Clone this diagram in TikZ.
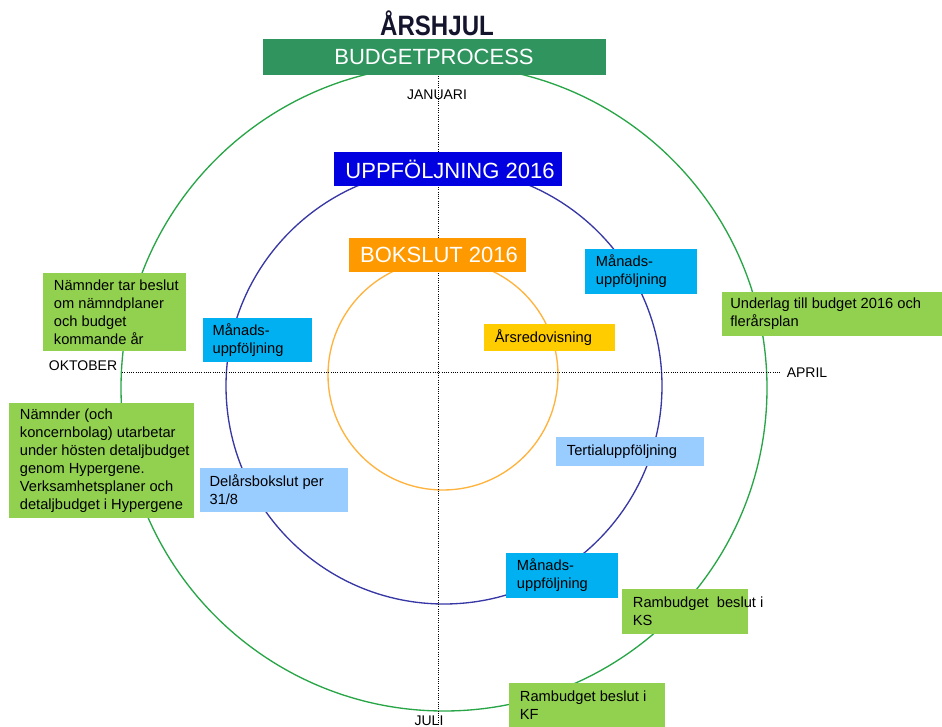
\documentclass[tikz,border=0pt]{standalone}
\usepackage{fontspec}
\setmainfont{Liberation Sans}
\definecolor{hdrgreen}{RGB}{48,148,95}
\definecolor{ringgreen}{RGB}{40,165,70}
\definecolor{hdrblue}{RGB}{0,0,225}
\definecolor{ringblue}{RGB}{55,55,165}
\definecolor{hdrorange}{RGB}{255,153,0}
\definecolor{ringorange}{RGB}{255,178,60}
\definecolor{cyanbox}{RGB}{0,176,240}
\definecolor{greenbox}{RGB}{146,208,80}
\definecolor{lbluebox}{RGB}{153,204,255}
\definecolor{yellowbox}{RGB}{255,204,0}
\definecolor{titlecol}{RGB}{20,20,45}
\tikzset{
  wh/.style 2 args={minimum width=#1*0.75pt, minimum height=#2*0.75pt},
  panel/.style={inner sep=0pt, outer sep=0pt, draw=none, fill=#1},
  hdrtext/.style={inner sep=0pt, text=white, font=\fontsize{16.5}{19}\selectfont},
  boxtext/.style={inner sep=0pt, anchor=west, align=left, text=black,
    font=\fontsize{11}{13.5}\selectfont},
  month/.style={inner sep=0pt, text=black, font=\fontsize{10.5}{12}\selectfont},
  axis/.style={densely dotted, line width=0.7pt, black},
  ring/.style={line width=1pt, draw=#1}
}
\begin{document}
\begin{tikzpicture}[x=0.75pt, y=-0.75pt]
\useasboundingbox (0,0) rectangle (942,727);
% rings
\draw[ring=ringgreen] (444,388) circle [radius=323*0.75pt];
\draw[ring=ringblue] (444,386) circle [radius=218*0.75pt];
\draw[ring=ringorange] (443,375) circle [radius=115*0.75pt];
% axes
\coordinate (vtop) at (438,76);
\coordinate (vbot) at (438,727);
\coordinate (hleft) at (122,372);
\coordinate (hright) at (780,372);
\draw[axis] (vtop) -- (vbot);
\draw[axis] (hleft) -- (hright);
% title and headers
\node[inner sep=0pt, text=titlecol, font=\bfseries\fontsize{21}{24}\selectfont, xscale=0.86] (title) at (437,23) {ÅRSHJUL};
\node[panel=hdrgreen, wh={343}{36}] (budget) at (434.5,57) {};
\node[hdrtext] (budgett) at (434,57) {BUDGETPROCESS};
\node[panel=hdrblue, wh={228}{34}] (uppf) at (448,169) {};
\node[hdrtext] (uppft) at (450,169) {UPPFÖLJNING 2016};
\node[panel=hdrorange, wh={177}{34}] (boks) at (437.5,255) {};
\node[hdrtext] (bokst) at (439,255) {BOKSLUT 2016};
% month labels
\node[month] (jan) at (437,95) {JANUARI};
\node[month] (okt) at (83,366) {OKTOBER};
\node[month] (apr) at (807,373) {APRIL};
\node[month] (jul) at (429,721) {JULI};
% boxes
\node[panel=cyanbox, wh={112}{45}] (m1) at (641,271.5) {};
\node[boxtext] (m1t) at ([xshift=8pt]m1.west) {Månads-\\uppföljning};
\node[panel=greenbox, wh={220}{44}] (und) at (832,314) {};
\node[boxtext] (undt) at ([xshift=6pt]und.west) {Underlag till budget 2016 och\\flerårsplan};
\node[panel=greenbox, wh={143}{78}] (nt) at (114.5,312) {};
\node[boxtext] (ntt) at ([xshift=8pt]nt.west) {Nämnder tar beslut\\om nämndplaner\\och budget\\kommande år};
\node[panel=cyanbox, wh={109}{44}] (m2) at (257.5,340) {};
\node[boxtext] (m2t) at ([xshift=7pt]m2.west) {Månads-\\uppföljning};
\node[panel=yellowbox, wh={131}{27}] (ars) at (549.5,337.5) {};
\node[boxtext] (arst) at ([xshift=8pt]ars.west) {Årsredovisning};
\node[panel=greenbox, wh={185}{115}] (no) at (101.5,460.5) {};
\node[boxtext] (not) at ([xshift=8pt]no.west) {Nämnder (och\\koncernbolag) utarbetar\\under hösten detaljbudget\\genom Hypergene.\\Verksamhetsplaner och\\detaljbudget i Hypergene};
\node[panel=lbluebox, wh={148}{29}] (ter) at (630,451.5) {};
\node[boxtext] (tert) at ([xshift=8pt]ter.west) {Tertialuppföljning};
\node[panel=lbluebox, wh={148}{44}] (del) at (274,490) {};
\node[boxtext] (delt) at ([xshift=7pt]del.west) {Delårsbokslut per\\31/8};
\node[panel=cyanbox, wh={112}{45}] (m3) at (562,575.5) {};
\node[boxtext] (m3t) at ([xshift=8pt]m3.west) {Månads-\\uppföljning};
\node[panel=greenbox, wh={126}{45}] (ks) at (685,611.5) {};
\node[boxtext] (kst) at ([xshift=8pt]ks.west) {Rambudget \ beslut i\\KS};
\node[panel=greenbox, wh={156}{44}] (kf) at (587,705) {};
\node[boxtext] (kft) at ([xshift=8pt]kf.west) {Rambudget beslut i\\KF};
\end{tikzpicture}
\end{document}
